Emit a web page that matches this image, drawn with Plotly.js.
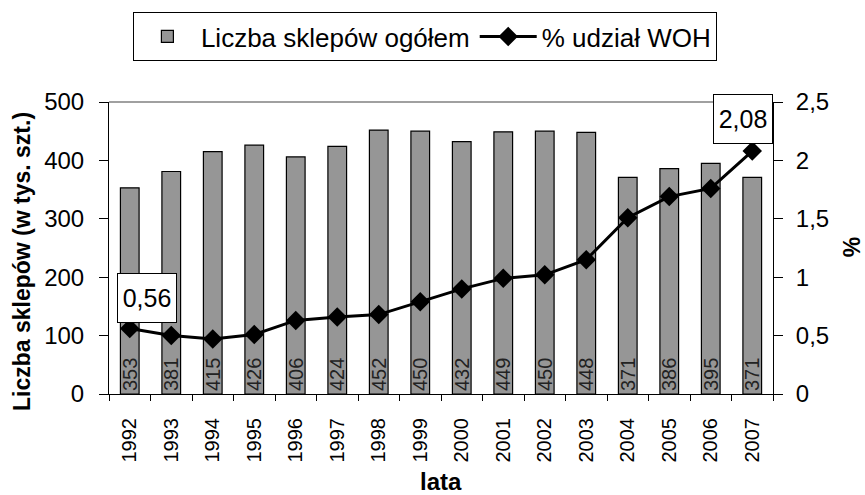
<!DOCTYPE html>
<html>
<head>
<meta charset="utf-8">
<script src="https://cdn.plot.ly/plotly-3.0.1.min.js"></script>
<style>html,body{margin:0;padding:0;background:#fff}#chart{width:865px;height:495px}</style>
</head>
<body>
<div id="chart"></div>
<script>
const years = ['1992','1993','1994','1995','1996','1997','1998','1999','2000','2001','2002','2003','2004','2005','2006','2007'];
const shops = [353,381,415,426,406,424,452,450,432,449,450,448,371,386,395,371];
const wohShare = [0.56,0.50,0.47,0.51,0.63,0.66,0.68,0.79,0.90,0.99,1.02,1.15,1.51,1.69,1.76,2.08];
const shopsName = 'Liczba sklepów ogółem';
const wohName = '% udział WOH';
const yTitle = 'Liczba sklepów (w tys. szt.)';
const y2Title = '%';
const xTitle = 'lata';
const labelFirst = '0,56';
const labelLast = '2,08';

const FONT = '"Liberation Sans", Arial, sans-serif';
const lastIdx = years.length - 1;
const xRange = [-0.5, years.length - 0.5];

const traces = [
  {
    type: 'bar', name: shopsName, x: years, y: shops,
    text: shops.map(String), textposition: 'inside', insidetextanchor: 'start',
    textangle: -90, textfont: {family: FONT, size: 20, color: '#222'},
    constraintext: 'none',
    marker: {color: '#969696', line: {color: '#000', width: 1.2}}
  },
  {
    type: 'scatter', mode: 'lines+markers', name: wohName, x: years, y: wohShare,
    yaxis: 'y2',
    line: {color: '#000', width: 3},
    marker: {symbol: 'diamond', size: 15, color: '#000'}
  }
];

const layout = {
  width: 865, height: 495,
  margin: {l: 109, r: 92, t: 102, b: 101},
  paper_bgcolor: '#fff', plot_bgcolor: '#fff',
  font: {family: FONT, size: 24, color: '#000'},
  separators: ', ',
  bargap: 0.55,
  showlegend: true,
  legend: {
    orientation: 'h',
    x: 0.036, y: 1.308, xanchor: 'left', yanchor: 'top',
    bordercolor: '#000', borderwidth: 1, bgcolor: '#fff',
    font: {family: FONT, size: 26, color: '#000'},
    itemwidth: 57, tracegroupgap: 0
  },
  xaxis: {
    type: 'category', range: xRange, showline: true, linecolor: '#000', linewidth: 1,
    ticks: 'outside', tickson: 'boundaries', ticklen: 6, tickcolor: '#000',
    tickangle: -90, tickfont: {family: FONT, size: 20}, ticklabelstandoff: 15,
    showgrid: false, zeroline: false
  },
  xaxis2: {
    overlaying: 'x', anchor: 'y', range: xRange, tick0: -0.5, dtick: 1,
    ticks: 'inside', ticklen: 6, tickcolor: '#000', showticklabels: false,
    showline: false, showgrid: false, zeroline: false
  },
  yaxis: {
    range: [0, 500], dtick: 100, showline: true, linecolor: '#000', linewidth: 1,
    ticks: 'outside', ticklen: 9, tickcolor: '#000',
    tickfont: {family: FONT, size: 24}, ticklabelstandoff: 10,
    showgrid: false, zeroline: false
  },
  yaxis3: {
    overlaying: 'y', side: 'left', anchor: 'x', range: [0, 500], dtick: 100,
    ticks: 'inside', ticklen: 8, tickcolor: '#000', showticklabels: false,
    showline: false, showgrid: false, zeroline: false
  },
  yaxis2: {
    overlaying: 'y', side: 'right', range: [0, 2.5], dtick: 0.5,
    showline: true, linecolor: '#000', linewidth: 1,
    ticks: 'outside', ticklen: 9, tickcolor: '#000',
    tickfont: {family: FONT, size: 24}, ticklabelstandoff: 8,
    showgrid: false, zeroline: false
  },
  yaxis4: {
    overlaying: 'y', side: 'right', anchor: 'x', range: [0, 2.5], dtick: 0.5,
    ticks: 'inside', ticklen: 8, tickcolor: '#000', showticklabels: false,
    showline: false, showgrid: false, zeroline: false
  },
  shapes: [
    {type: 'line', xref: 'paper', yref: 'paper', x0: 0, x1: 1, y0: 1, y1: 1,
     line: {color: '#808080', width: 1.5}}
  ],
  annotations: [
    {xref: 'x', yref: 'y2', x: 0, y: wohShare[0], text: labelFirst,
     xanchor: 'center', yanchor: 'middle',
     showarrow: false, xshift: 17, yshift: 31, width: 50, height: 40,
     font: {family: FONT, size: 25, color: '#000'},
     bgcolor: '#fff', bordercolor: '#000', borderwidth: 1, borderpad: 4},
    {xref: 'x', yref: 'y2', x: lastIdx, y: wohShare[lastIdx], text: labelLast,
     xanchor: 'center', yanchor: 'middle',
     showarrow: false, xshift: -9, yshift: 32, width: 50, height: 40,
     font: {family: FONT, size: 25, color: '#000'},
     bgcolor: '#fff', bordercolor: '#000', borderwidth: 1, borderpad: 4},
    {xref: 'paper', yref: 'paper', x: -0.131, y: 0.452, text: '<b>' + yTitle + '</b>',
     xanchor: 'center', yanchor: 'middle',
     textangle: -90, showarrow: false, font: {family: FONT, size: 23, color: '#000'}},
    {xref: 'paper', yref: 'paper', x: 1.119, y: 0.503, text: '<b>' + y2Title + '</b>',
     xanchor: 'center', yanchor: 'middle',
     textangle: -90, showarrow: false, font: {family: FONT, size: 23, color: '#000'}},
    {xref: 'paper', yref: 'paper', x: 0.5, y: -0.3, text: '<b>' + xTitle + '</b>',
     xanchor: 'center', yanchor: 'middle',
     showarrow: false, font: {family: FONT, size: 24, color: '#000'}}
  ]
};

Plotly.newPlot('chart', traces, layout, {displayModeBar: false, staticPlot: true});
</script>
</body>
</html>
